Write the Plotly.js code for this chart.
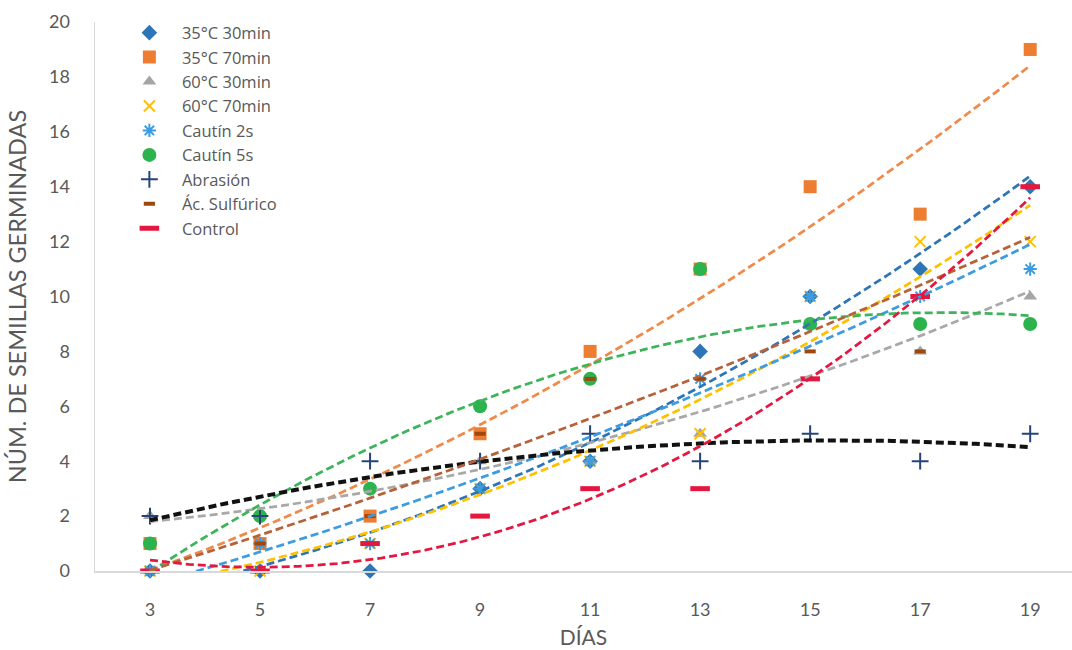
<!DOCTYPE html>
<html>
<head>
<meta charset="utf-8">
<script src="https://cdn.plot.ly/plotly-3.0.1.min.js"></script>
<style>
  html, body { margin: 0; padding: 0; background: #ffffff; }
  #chart { width: 1072px; height: 650px; }
</style>
</head>
<body>
<div id="chart"></div>
<script>
// Días de observación
const dias = [3, 5, 7, 9, 11, 13, 15, 17, 19];

// Semillas germinadas por tratamiento
const t35c30 = [0, 0, 0, 3, 4, 8, 10, 11, 14];
const t35c70 = [1, 1, 2, 5, 8, 11, 14, 13, 19];
const t60c30 = [2, 2, 3, 4, 4, 5, 9, 8, 10];
const t60c70 = [0, 0, 1, 3, 4, 5, 10, 12, 12];
const cautin2 = [0, 1, 1, 3, 4, 7, 10, 10, 11];
const cautin5 = [1, 2, 3, 6, 7, 11, 9, 9, 9];
const abrasion = [2, 2, 4, 4, 5, 4, 5, 4, 5];
const sulfurico = [0, 1, 2, 5, 7, 7, 8, 8, 14];
const control = [0, 0, 1, 2, 3, 3, 7, 10, 14];

const nombres = ['35°C 30min', '35°C 70min', '60°C 30min', '60°C 70min',
  'Cautín 2s', 'Cautín 5s', 'Abrasión', 'Ác. Sulfúrico', 'Control'];
const valores = [t35c30, t35c70, t60c30, t60c70, cautin2, cautin5, abrasion, sulfurico, control];

// Estilo de cada serie: marcador y línea de tendencia
const estilos = [
  { color: '#2E75B6', symbol: 'diamond', size: 12, trend: '#2E75B6', tw: 2.75 },
  { color: '#ED7D31', symbol: 'square', size: 13, trend: '#F08A4B', tw: 2.75 },
  { color: '#A5A5A5', symbol: 'triangle-up', size: 12, trend: '#A8A8A8', tw: 2.75 },
  { color: '#FFC000', symbol: 'x-thin-open', size: 11, lw: 2, trend: '#FFC000', tw: 2.75 },
  { color: '#3D9BE0', symbol: 'asterisk-open', size: 11, lw: 2, trend: '#3D9BE0', tw: 2.75 },
  { color: '#2DB34E', symbol: 'circle', size: 14, trend: '#3DB45A', tw: 2.75 },
  { color: '#264478', symbol: 'cross-thin-open', size: 12, lw: 2, trend: '#111111', tw: 4 },
  { color: '#9E480E', symbol: 'line-ew-open', size: 8, lw: 4, trend: '#B5623A', tw: 2.75 },
  { color: '#E3173F', symbol: 'line-ew-open', size: 14, lw: 5, trend: '#E3173F', tw: 2.75 }
];

// Ajuste polinómico de grado 2 por mínimos cuadrados
function ajusteCuadratico(x, y) {
  let n = x.length, sx = 0, sx2 = 0, sx3 = 0, sx4 = 0, sy = 0, sxy = 0, sx2y = 0;
  for (let i = 0; i < n; i++) {
    const a = x[i], b = y[i];
    sx += a; sx2 += a * a; sx3 += a * a * a; sx4 += a * a * a * a;
    sy += b; sxy += a * b; sx2y += a * a * b;
  }
  const M = [[n, sx, sx2, sy], [sx, sx2, sx3, sxy], [sx2, sx3, sx4, sx2y]];
  for (let c = 0; c < 3; c++) {
    let p = c;
    for (let r = c + 1; r < 3; r++) if (Math.abs(M[r][c]) > Math.abs(M[p][c])) p = r;
    [M[c], M[p]] = [M[p], M[c]];
    for (let r = 0; r < 3; r++) {
      if (r === c) continue;
      const f = M[r][c] / M[c][c];
      for (let k = c; k < 4; k++) M[r][k] -= f * M[c][k];
    }
  }
  return [M[0][3] / M[0][0], M[1][3] / M[1][1], M[2][3] / M[2][2]];
}

const trazas = [];
const tendencias = [];
valores.forEach((y, i) => {
  const e = estilos[i];
  const marker = { color: e.color, symbol: e.symbol, size: e.size };
  if (e.lw) marker.line = { color: e.color, width: e.lw };
  else marker.line = { width: 0 };
  trazas.push({
    type: 'scatter', mode: 'markers', name: nombres[i],
    x: dias, y: y, marker: marker, cliponaxis: false
  });
  const [c0, c1, c2] = ajusteCuadratico(dias, y);
  const xs = [], ys = [];
  for (let k = 0; k <= 160; k++) {
    const xv = dias[0] + (dias[dias.length - 1] - dias[0]) * k / 160;
    xs.push(xv);
    ys.push(c0 + c1 * xv + c2 * xv * xv);
  }
  tendencias.push({
    type: 'scatter', mode: 'lines', x: xs, y: ys, showlegend: false,
    hoverinfo: 'skip', cliponaxis: false,
    line: { color: e.trend, width: e.tw, dash: '8px,4px' }
  });
});

const fuente = 'Lato, "Open Sans", sans-serif';
const layout = {
  width: 1072, height: 650,
  margin: { l: 95, r: 0, t: 22, b: 79 },
  paper_bgcolor: '#ffffff', plot_bgcolor: '#ffffff',
  font: { family: fuente, color: '#595959', size: 17 },
  showlegend: true,
  legend: {
    x: 0.0224, y: 1.012, xanchor: 'left', yanchor: 'top',
    bgcolor: 'rgba(255,255,255,0)', itemwidth: 55,
    font: { family: '"Open Sans", sans-serif', size: 16.5, color: '#595959' },
    tracegroupgap: 0
  },
  xaxis: {
    range: [2, 19.76], tickmode: 'array', tickvals: dias, ticktext: dias.map(String),
    showgrid: false, zeroline: false, showline: true, linecolor: '#D9D9D9', linewidth: 1.5,
    ticks: 'outside', ticklen: 22, tickcolor: 'rgba(0,0,0,0)',
    tickfont: { size: 18, color: '#595959' },
    title: { text: 'DÍAS', font: { size: 21, color: '#595959' }, standoff: 11 }
  },
  yaxis: {
    range: [0, 20], dtick: 2, tick0: 0,
    showgrid: false, zeroline: false, showline: true, linecolor: '#D9D9D9', linewidth: 1.5,
    ticks: 'outside', ticklen: 20, tickcolor: 'rgba(0,0,0,0)',
    tickfont: { size: 18, color: '#595959' },
    title: { text: 'NÚM. DE SEMILLAS GERMINADAS', font: { size: 23.5, color: '#595959' }, standoff: 16 }
  }
};

Plotly.newPlot('chart', trazas.concat(tendencias), layout, { displayModeBar: false, staticPlot: true });
</script>
</body>
</html>
